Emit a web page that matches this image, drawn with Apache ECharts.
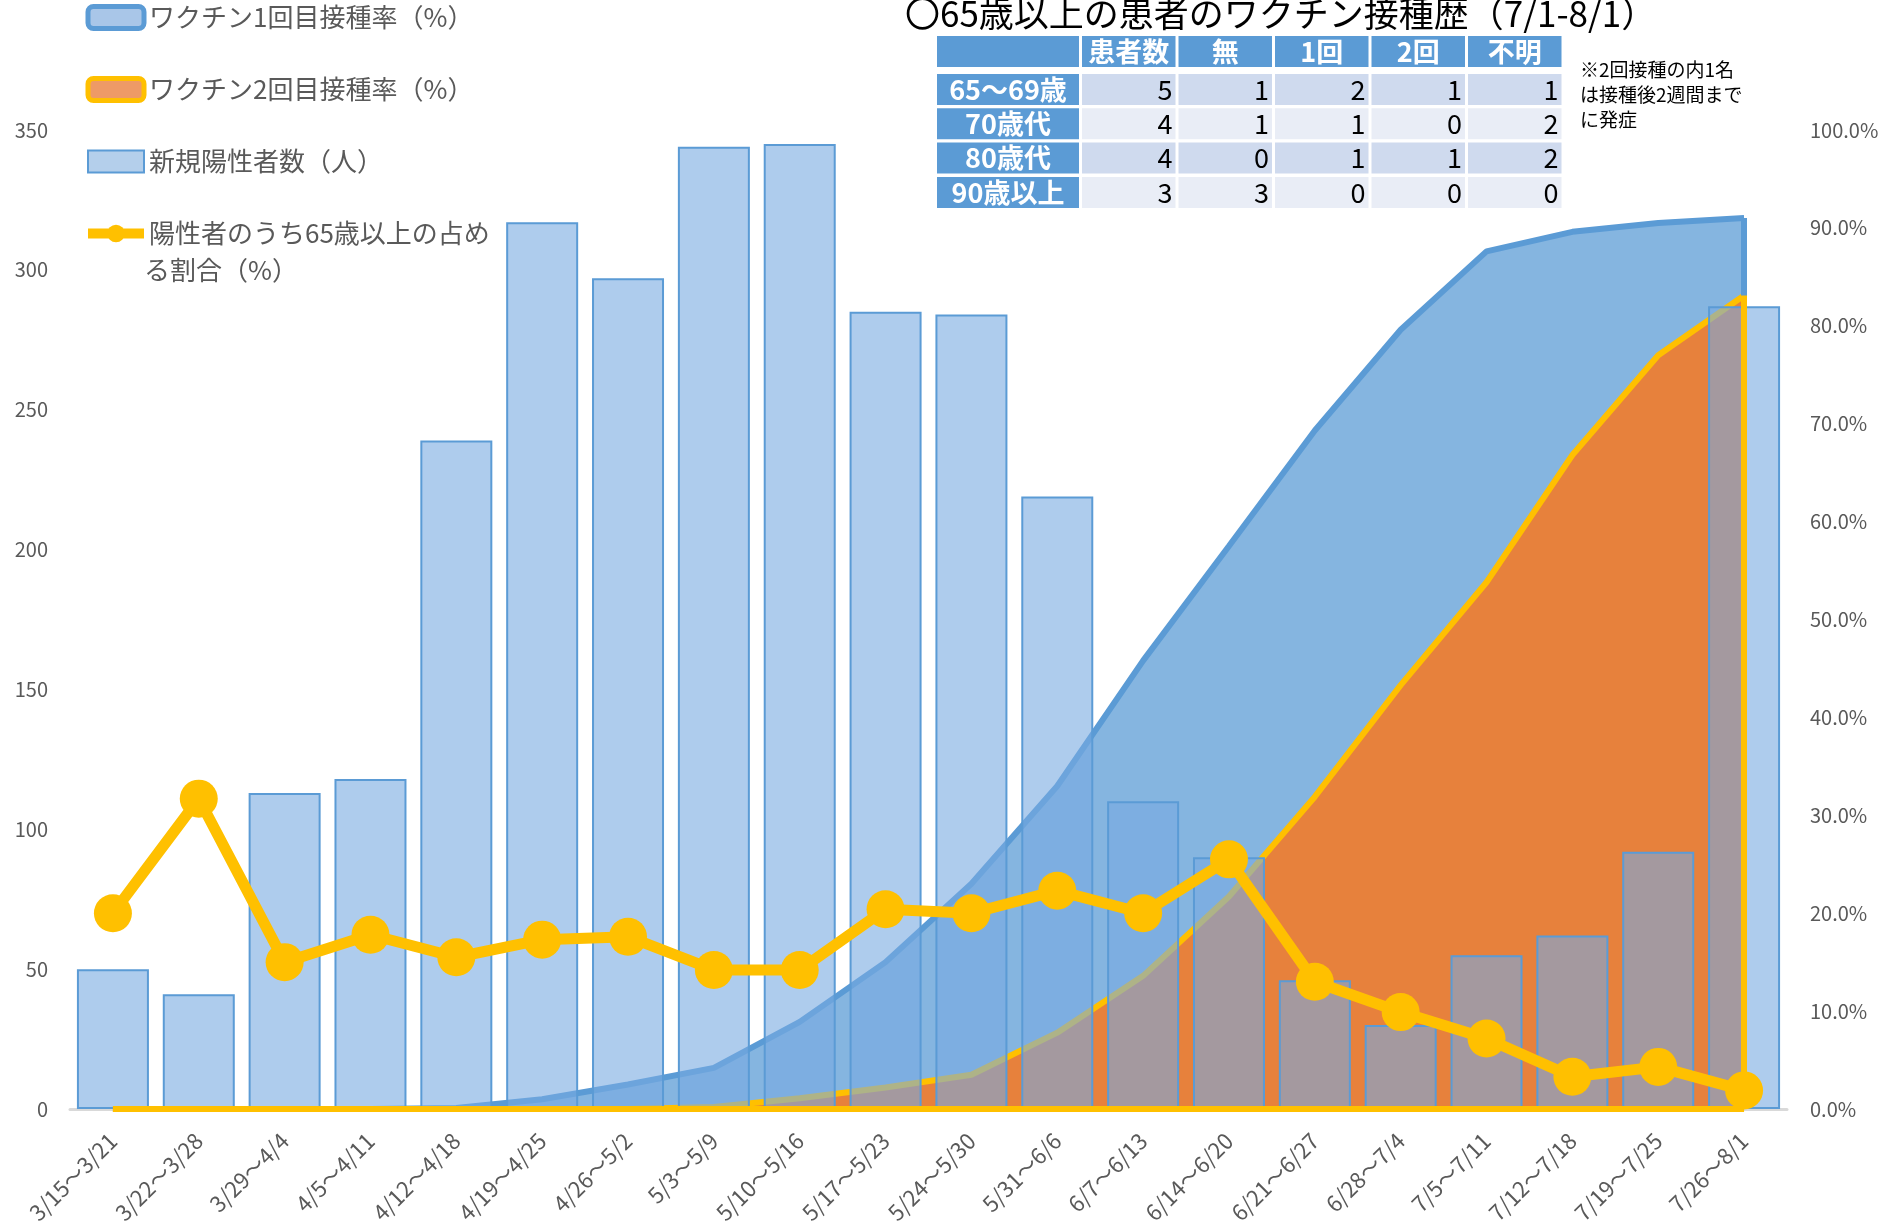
<!DOCTYPE html>
<html>
<head>
<meta charset="utf-8">
<script src="https://cdn.jsdelivr.net/npm/echarts@6/dist/echarts.min.js"></script>
<style>
  html, body { margin: 0; padding: 0; background: #fff; }
  #chart { width: 1901px; height: 1227px; }
</style>
</head>
<body>
<div id="chart"></div>
<script>
// weekly categories
const weeks = [
  '3/15～3/21', '3/22～3/28', '3/29～4/4', '4/5～4/11', '4/12～4/18',
  '4/19～4/25', '4/26～5/2', '5/3～5/9', '5/10～5/16', '5/17～5/23',
  '5/24～5/30', '5/31～6/6', '6/7～6/13', '6/14～6/20', '6/21～6/27',
  '6/28～7/4', '7/5～7/11', '7/12～7/18', '7/19～7/25', '7/26～8/1'
]
// 新規陽性者数（人）
const newCases = [50, 41, 113, 118, 239, 317, 297, 344, 345, 285, 284, 219, 110, 90, 46, 30, 55, 62, 92, 287]
// ワクチン1回目接種率（%）
const firstDoseRate = [0, 0, 0, 0, 0.1, 1.0, 2.5, 4.2, 8.9, 15.0, 23.0, 33.0, 45.8, 57.5, 69.3, 79.6, 87.6, 89.6, 90.5, 91.0]
// ワクチン2回目接種率（%）
const secondDoseRate = [0, 0, 0, 0, 0, 0, 0, 0.2, 1.1, 2.2, 3.5, 7.8, 13.6, 21.7, 31.9, 43.3, 53.8, 66.8, 77.0, 83.1]
// 陽性者のうち65歳以上の占める割合（%）
const elderlyShare = [20.0, 31.7, 15.0, 17.8, 15.5, 17.3, 17.6, 14.2, 14.2, 20.4, 20.0, 22.3, 20.0, 25.5, 13.0, 9.9, 7.2, 3.3, 4.3, 1.9]

// table: ○65歳以上の患者のワクチン接種歴
const tableTitle = '〇65歳以上の患者のワクチン接種歴（7/1-8/1）'
const tableCols = ['患者数', '無', '1回', '2回', '不明']
const tableRows = ['65～69歳', '70歳代', '80歳代', '90歳以上']
const tableValues = [
  [5, 1, 2, 1, 1],
  [4, 1, 1, 0, 2],
  [4, 0, 1, 1, 2],
  [3, 3, 0, 0, 0]
]
const tableNote = '※2回接種の内1名\nは接種後2週間まで\nに発症'

const FONT = "'Noto Sans CJK JP', 'Noto Sans', sans-serif"
const GREY = '#595959'
const BLUE = '#5b9bd5'
const YELLOW = '#ffc000'

// Build table graphics
const buildTable = () => {
  const els = []
  const left = 937
  const labelW = 142
  const cellW = 93.5
  const step = 96.5
  const firstCellX = left + labelW + 3
  const headTop = 36
  const headH = 31
  const rowTop = 74
  const rowH = 31
  const rowStep = 34.3

  els.push({
    type: 'text', left: 905, top: -4,
    style: { text: tableTitle, font: `35px ${FONT}`, fill: '#000' }
  })

  // header
  els.push({ type: 'rect', shape: { x: left, y: headTop, width: labelW, height: headH }, style: { fill: BLUE } })
  tableCols.forEach((c, j) => {
    const x = firstCellX + j * step
    els.push({ type: 'rect', shape: { x, y: headTop, width: cellW, height: headH }, style: { fill: BLUE } })
    els.push({
      type: 'text', x: x + cellW / 2, y: headTop + headH / 2,
      style: { text: c, font: `bold 27px ${FONT}`, fill: '#fff', align: 'center', verticalAlign: 'middle' }
    })
  })

  tableRows.forEach((r, i) => {
    const y = rowTop + i * rowStep
    const bg = i % 2 === 0 ? '#cfdaee' : '#e9edf6'
    els.push({ type: 'rect', shape: { x: left, y, width: labelW, height: rowH }, style: { fill: BLUE } })
    els.push({
      type: 'text', x: left + labelW / 2, y: y + rowH / 2,
      style: { text: r, font: `bold 27px ${FONT}`, fill: '#fff', align: 'center', verticalAlign: 'middle' }
    })
    tableValues[i].forEach((v, j) => {
      const x = firstCellX + j * step
      els.push({ type: 'rect', shape: { x, y, width: cellW, height: rowH }, style: { fill: bg } })
      els.push({
        type: 'text', x: x + cellW - 3, y: y + rowH / 2,
        style: { text: String(v), font: `27px ${FONT}`, fill: '#000', align: 'right', verticalAlign: 'middle' }
      })
    })
  })

  els.push({
    type: 'text', left: 1580, top: 57,
    style: { text: tableNote, font: `19px ${FONT}`, fill: '#000', lineHeight: 25 }
  })
  return els
}

const chart = echarts.init(document.getElementById('chart'))

const lastWeek = weeks[weeks.length - 1]
const edgeMark = (values, color, withBottom) => {
  const data = [[{ coord: [lastWeek, 0] }, { coord: [lastWeek, values[values.length - 1]] }]]
  if (withBottom) data.push([{ coord: [weeks[0], 0] }, { coord: [lastWeek, 0] }])
  return {
    silent: true,
    symbol: 'none',
    label: { show: false },
    emphasis: { disabled: true },
    lineStyle: { color, width: 6, type: 'solid' },
    data
  }
}

const option = {
  animation: false,
  backgroundColor: '#fff',
  textStyle: { fontFamily: FONT },
  grid: { left: 70, right: 114, top: 130, bottom: 118 },
  legend: {
    orient: 'vertical',
    left: 83,
    top: -1,
    padding: 0,
    itemWidth: 56,
    itemHeight: 22,
    itemGap: 35,
    textStyle: { color: GREY, fontSize: 26, lineHeight: 37, fontFamily: FONT },
    formatter: name => name.split('\n')[0],
    data: [
      { name: 'ワクチン1回目接種率（%）', icon: 'roundRect', itemStyle: { color: '#a9c6e8', borderColor: BLUE, borderWidth: 5 } },
      { name: 'ワクチン2回目接種率（%）', icon: 'roundRect', itemStyle: { color: '#ee9a66', borderColor: YELLOW, borderWidth: 5 } },
      { name: '新規陽性者数（人）', icon: 'rect', itemStyle: { color: '#b4cfeb', borderColor: BLUE, borderWidth: 2 } },
      { name: '陽性者のうち65歳以上の占め\nる割合（%）', lineStyle: { width: 10 } }
    ]
  },
  graphic: [
    {
      type: 'text', left: 144, top: 257,
      style: { text: 'る割合（%）', font: `26px ${FONT}`, fill: GREY }
    },
    ...buildTable()
  ],
  xAxis: {
    type: 'category',
    data: weeks,
    axisTick: { show: false },
    axisLine: { lineStyle: { color: '#d9d9d9', width: 3 } },
    axisLabel: { interval: 0, rotate: 45, color: GREY, fontSize: 22, margin: 28 }
  },
  yAxis: [
    {
      type: 'value', min: 0, max: 350, interval: 50,
      splitLine: { show: false },
      axisLine: { show: false },
      axisTick: { show: false },
      axisLabel: { color: GREY, fontSize: 20, margin: 22 }
    },
    {
      type: 'value', min: 0, max: 100, interval: 10,
      splitLine: { show: false },
      axisLine: { show: false },
      axisTick: { show: false },
      axisLabel: { color: GREY, fontSize: 20, margin: 23, formatter: v => v.toFixed(1) + '%' }
    }
  ],
  series: [
    {
      name: 'ワクチン1回目接種率（%）',
      type: 'line',
      yAxisIndex: 1,
      data: firstDoseRate,
      symbol: 'none',
      z: 1,
      lineStyle: { color: BLUE, width: 6 },
      itemStyle: { color: BLUE },
      areaStyle: { color: 'rgba(91,155,213,0.74)', opacity: 1 },
      markLine: edgeMark(firstDoseRate, BLUE, false)
    },
    {
      name: 'ワクチン2回目接種率（%）',
      type: 'line',
      yAxisIndex: 1,
      data: secondDoseRate,
      symbol: 'none',
      z: 2,
      lineStyle: { color: YELLOW, width: 6 },
      itemStyle: { color: YELLOW },
      areaStyle: { color: 'rgba(237,125,49,0.94)', opacity: 1 },
      markLine: edgeMark(secondDoseRate, YELLOW, true)
    },
    {
      name: '新規陽性者数（人）',
      type: 'bar',
      yAxisIndex: 0,
      data: newCases,
      barWidth: 72,
      z: 3,
      itemStyle: { color: 'rgba(120,170,225,0.6)', borderColor: BLUE, borderWidth: 2 }
    },
    {
      name: '陽性者のうち65歳以上の占め\nる割合（%）',
      type: 'line',
      yAxisIndex: 1,
      data: elderlyShare,
      symbol: 'circle',
      symbolSize: 38,
      z: 5,
      lineStyle: { color: YELLOW, width: 11 },
      itemStyle: { color: YELLOW }
    }
  ]
}

chart.setOption(option)
</script>
</body>
</html>
